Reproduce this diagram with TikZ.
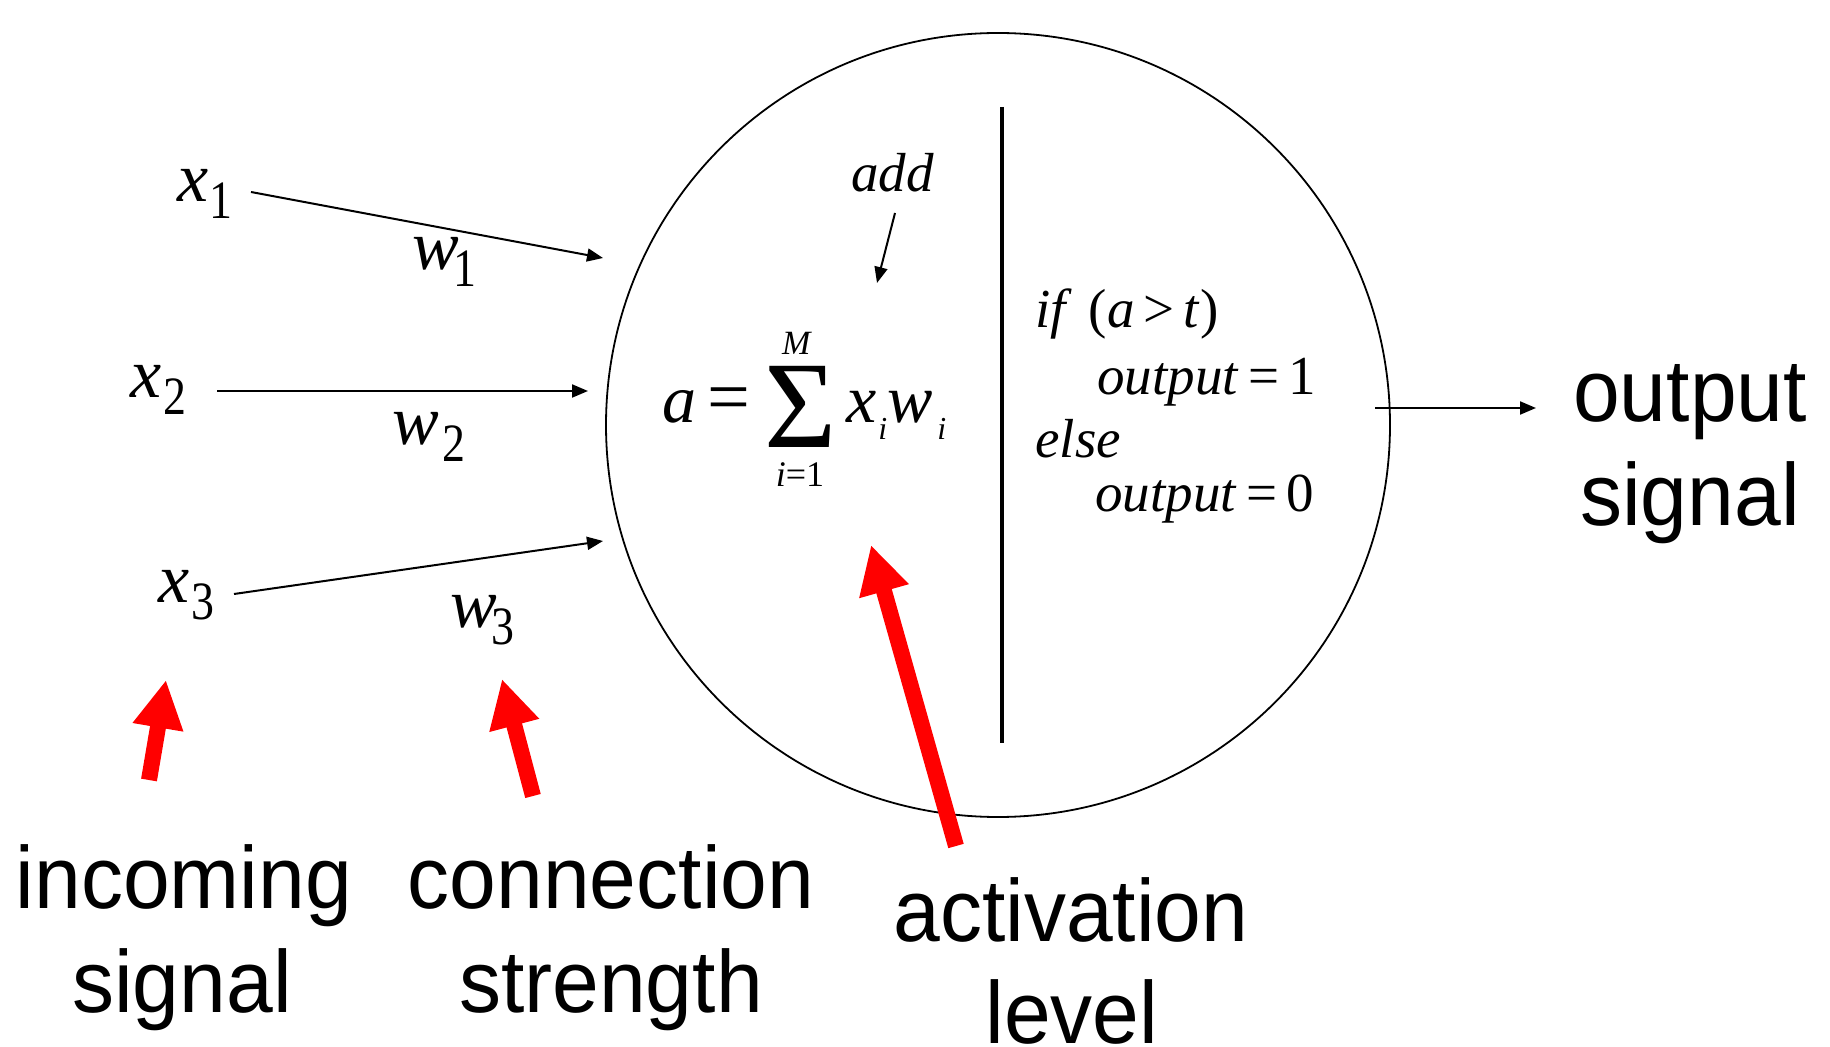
\documentclass[tikz,border=0pt]{standalone}
\usepackage{fontspec}
\setmainfont{Liberation Serif}
\newfontfamily\arialf{Liberation Sans}
\usetikzlibrary{arrows.meta}
\newcommand\fsz[1]{\fontsize{#1}{#1}\selectfont}
\newcommand\lbl[3]{\textit{#1}\kern#3\raisebox{-8.5pt}{\scalebox{0.85}[1]{\fsz{27}#2}}}
\newcommand\sans[1]{\scalebox{1}[1.05]{#1}}
\begin{document}
\begin{tikzpicture}[x=0.5pt,y=-0.5pt,
  lab/.style={inner sep=0, anchor=base west, font=\fsz{35}},
  rt/.style={inner sep=0, anchor=base west, font=\fsz{27.5}},
  captext/.style={inner sep=0, anchor=base, font=\arialf\fsz{42}},
  thinarrow/.style={line width=1pt, -{Triangle[length=8pt,width=6.5pt]}},
  redarrow/.style={line width=8pt, red, -{Triangle[length=24pt,width=24pt]}}]
\useasboundingbox (0,0) rectangle (1830,1047);
% neuron
\node[circle, draw, line width=0.9pt, minimum size=392pt, inner sep=0] (neuron) at (998,425) {};
\coordinate (divtop) at (1002,107);
\coordinate (divbot) at (1002,743);
\draw[line width=2.2pt] (divtop) -- (divbot);
% inputs
\node[lab] (x1) at (177,202) {\lbl{x}{1}{0.5pt}};
\node[lab] (x2) at (130,398) {\lbl{x}{2}{1pt}};
\node[lab] (x3) at (158,603) {\lbl{x}{3}{1pt}};
\node[lab] (w1) at (412,270) {\lbl{w}{1}{-3pt}};
\node[lab] (w2) at (392,445) {\lbl{w}{2}{1.5pt}};
\node[lab] (w3) at (450,627) {\lbl{w}{3}{-3pt}};
\coordinate (x1s) at (251,192); \coordinate (x1e) at (603,258);
\coordinate (x2s) at (217,391); \coordinate (x2e) at (588,391);
\coordinate (x3s) at (234,594); \coordinate (x3e) at (603,541);
\draw[thinarrow] (x1s) -- (x1e);
\draw[thinarrow] (x2s) -- (x2e);
\draw[thinarrow] (x3s) -- (x3e);
% formula
\node[inner sep=0, anchor=base west, font=\fsz{34}] (fa) at (662,423) {\textit{a}};
\node[inner sep=0, anchor=base west, font=\fsz{38}] (feq) at (707,423) {=};
\node[inner sep=0, anchor=base west, font=\fsz{62}] (fsig) at (764,448) {Σ};
\node[inner sep=0, anchor=base, font=\fsz{17}] (fM) at (797,355) {\textit{M}};
\node[inner sep=0, anchor=base, font=\fsz{18}] (fi1) at (800,487) {\textit{i}=1};
\node[inner sep=0, anchor=base west, font=\fsz{34}] (fx) at (846,423) {\textit{x}};
\node[inner sep=0, anchor=base west, font=\fsz{16}] (fxi) at (878,440) {\textit{i}};
\node[inner sep=0, anchor=base west, font=\fsz{34}] (fw) at (887,423) {\textit{w}};
\node[inner sep=0, anchor=base west, font=\fsz{16}] (fwi) at (937,440) {\textit{i}};
% add
\node[rt] (add) at (851,192) {\textit{add}};
\coordinate (adds) at (895,213); \coordinate (adde) at (877,283);
\draw[thinarrow] (adds) -- (adde);
% rule
\node[rt] (cond) at (1035,328) {\textit{if}\hspace{0.3em}(\textit{a}\,>\,\textit{t})};
\node[rt] (out1) at (1097,395) {\textit{output}\,=\,1};
\node[rt] (els) at (1035,458) {\textit{else}};
\node[rt] (out0) at (1095,512) {\textit{output}\,=\,0};
% output
\coordinate (outs) at (1375,408); \coordinate (oute) at (1536,408);
\draw[thinarrow] (outs) -- (oute);
\node[captext] (outw) at (1690,422) {\sans{output}};
\node[captext] (outsig) at (1690,525) {\sans{signal}};
% captions
\node[captext] (inc1) at (184,908) {\sans{incoming}};
\node[captext] (inc2) at (182,1012) {\sans{signal}};
\node[captext] (con1) at (611,908) {\sans{connection}};
\node[captext] (con2) at (611,1012) {\sans{strength}};
\node[captext] (act1) at (1071,941) {\sans{activation}};
\node[captext] (act2) at (1072,1043) {\sans{level}};
% red arrows
\coordinate (r1s) at (149,780); \coordinate (r1e) at (166,680);
\coordinate (r2s) at (533,796); \coordinate (r2e) at (502,679);
\coordinate (r3s) at (956,846); \coordinate (r3e) at (871,545);
\draw[redarrow] (r1s) -- (r1e);
\draw[redarrow] (r2s) -- (r2e);
\draw[redarrow] (r3s) -- (r3e);
\end{tikzpicture}
\end{document}
